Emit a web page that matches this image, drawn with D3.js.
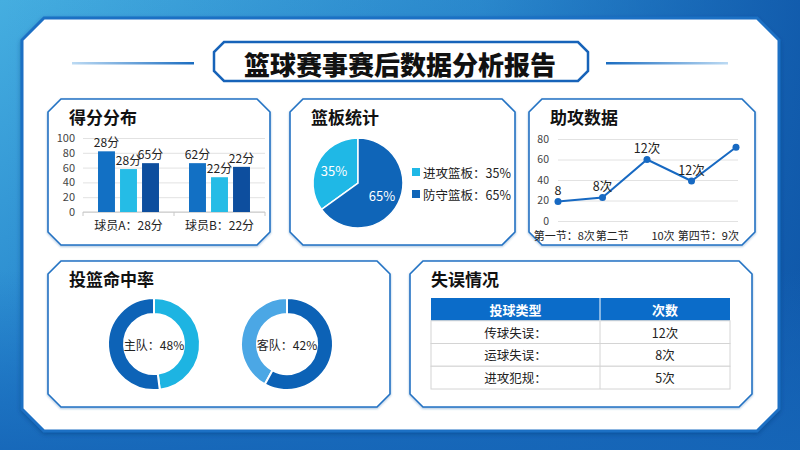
<!DOCTYPE html>
<html><head><meta charset="utf-8">
<script src="https://cdn.jsdelivr.net/npm/d3@7"></script>
<style>
html,body{margin:0;padding:0;background:#1a6cc0;}
svg{display:block;font-family:"Noto Sans CJK SC","Noto Sans",sans-serif;}
</style>
</head><body>
<svg id="c" width="800" height="450"></svg>
<script>
// ---------- DATA ----------
const titleText = "篮球赛事赛后数据分析报告";
const panelTitles = ["得分分布", "篮板统计", "助攻数据", "投篮命中率", "失误情况"];

// Panel 1: score distribution (three bars per player)
const scoreCategories = ["球员A：28分", "球员B：22分"];
const scoreSeries1 = [82, 66];
const scoreSeries2 = [58, 47];
const scoreSeries3 = [66, 61];
const scoreLabels1 = ["28分", "62分"];
const scoreLabels2 = ["28分", "22分"];
const scoreLabels3 = ["65分", "22分"];
const scoreTicks = [0, 20, 40, 60, 80, 100];

// Panel 2: rebounds
const reboundNames = ["进攻篮板", "防守篮板"];
const reboundValues = [35, 65];

// Panel 3: assists
const assistValues = [19, 23, 60, 39, 72];
const assistLabels = ["8", "8次", "12次", "12次", ""];
const assistTicks = [0, 20, 40, 60, 80];
const assistXLabels = ["第一节：8次", "第二节", "10次", "第四节：9次"];
const assistXLabelPos = [0.14, 1.22, 2.36, 3.38];

// Panel 4: shooting percentage
const shootTeams = ["主队", "客队"];
const shootPct = [48, 42];

// Panel 5: turnovers
const turnoverHeader = ["投球类型", "次数"];
const turnoverTypes = ["传球失误：", "运球失误：", "进攻犯规："];
const turnoverCounts = [12, 8, 5];

// ---------- DRAWING ----------
const svg = d3.select("#c");
const defs = svg.append("defs");

// background gradients
const bg = defs.append("linearGradient").attr("id", "bg").attr("x1", 0).attr("y1", 0).attr("x2", 1).attr("y2", 1);
bg.append("stop").attr("offset", 0).attr("stop-color", "#45aee0");
bg.append("stop").attr("offset", 0.45).attr("stop-color", "#2584cc");
bg.append("stop").attr("offset", 1).attr("stop-color", "#1260b0");
const bg2 = defs.append("linearGradient").attr("id", "bg2").attr("x1", 0).attr("y1", 0).attr("x2", 1).attr("y2", 0);
bg2.append("stop").attr("offset", 0).attr("stop-color", "#1560b2").attr("stop-opacity", 0);
bg2.append("stop").attr("offset", 0.6).attr("stop-color", "#1560b2").attr("stop-opacity", 0.2);
bg2.append("stop").attr("offset", 1).attr("stop-color", "#0f56a8").attr("stop-opacity", 0.85);
const bg3 = defs.append("linearGradient").attr("id", "bg3").attr("x1", 0).attr("y1", 0).attr("x2", 0).attr("y2", 1);
bg3.append("stop").attr("offset", 0.6).attr("stop-color", "#1a6cc0").attr("stop-opacity", 0);
bg3.append("stop").attr("offset", 1).attr("stop-color", "#1666b8").attr("stop-opacity", 0.9);

svg.append("rect").attr("width", 800).attr("height", 450).attr("fill", "url(#bg)");
svg.append("rect").attr("width", 800).attr("height", 450).attr("fill", "url(#bg2)");
svg.append("rect").attr("width", 800).attr("height", 450).attr("fill", "url(#bg3)");

// shadows
const sh = defs.append("filter").attr("id", "sh").attr("x", -0.1).attr("y", -0.1).attr("width", 1.2).attr("height", 1.2);
sh.append("feDropShadow").attr("dx", 0).attr("dy", 2).attr("stdDeviation", 2).attr("flood-color", "#0a3d7a").attr("flood-opacity", 0.45);
const sh2 = defs.append("filter").attr("id", "sh2").attr("x", -0.1).attr("y", -0.1).attr("width", 1.2).attr("height", 1.2);
sh2.append("feDropShadow").attr("dx", 0).attr("dy", 1).attr("stdDeviation", 0.8).attr("flood-color", "#1a5fa8").attr("flood-opacity", 0.4);

function octa(x0, y0, x1, y1, c) {
  return `M${x0 + c},${y0}H${x1 - c}L${x1},${y0 + c}V${y1 - c}L${x1 - c},${y1}H${x0 + c}L${x0},${y1 - c}V${y0 + c}Z`;
}

// outer white board
svg.append("path").attr("d", octa(22, 18, 779, 431, 22))
  .attr("fill", "#ffffff").attr("stroke", "#1d6fc4").attr("stroke-width", 3).attr("filter", "url(#sh)");

// title box & decorative lines
const lgL = defs.append("linearGradient").attr("id", "lgL");
lgL.append("stop").attr("offset", 0).attr("stop-color", "#bcdaf3");
lgL.append("stop").attr("offset", 1).attr("stop-color", "#1a6cc0");
const lgR = defs.append("linearGradient").attr("id", "lgR");
lgR.append("stop").attr("offset", 0).attr("stop-color", "#1a6cc0");
lgR.append("stop").attr("offset", 1).attr("stop-color", "#bcdaf3");
svg.append("rect").attr("x", 72).attr("y", 62).attr("width", 122).attr("height", 2.5).attr("fill", "url(#lgL)");
svg.append("rect").attr("x", 606).attr("y", 62).attr("width", 122).attr("height", 2.5).attr("fill", "url(#lgR)");

svg.append("path").attr("d", octa(214, 42, 588, 81, 10))
  .attr("fill", "#ffffff").attr("stroke", "#1763b9").attr("stroke-width", 2.5);
svg.append("text").attr("x", 400).attr("y", 63).attr("text-anchor", "middle").attr("dominant-baseline", "central")
  .attr("font-size", 26).attr("font-weight", 900).attr("fill", "#111").text(titleText);

// panels
const panels = [
  [48, 99, 270, 245],
  [290, 99, 515, 245],
  [529, 99, 755, 245],
  [48, 261, 390, 407],
  [410, 261, 752, 407]
];
panels.forEach((p, i) => {
  svg.append("path").attr("d", octa(p[0], p[1], p[2], p[3], 13))
    .attr("fill", "#fff").attr("stroke", "#2372c3").attr("stroke-width", 1.6).attr("filter", "url(#sh2)");
  svg.append("text").attr("x", p[0] + 21).attr("y", p[1] + 17.5).attr("dominant-baseline", "central")
    .attr("font-size", 17).attr("font-weight", 700).attr("fill", "#111").text(panelTitles[i]);
});

// ---- Panel 1: bars ----
{
  const g = svg.append("g");
  const x = d3.scaleBand().domain(scoreCategories).range([83, 265]);
  const xi = d3.scaleBand().domain([0, 1, 2]).range([x.bandwidth() * 0.165, x.bandwidth() * 0.835]).paddingInner(0.23);
  const y = d3.scaleLinear().domain([0, 100]).range([212, 138]);
  const ax = g.append("g").attr("transform", "translate(83,0)")
    .call(d3.axisLeft(y).tickValues(scoreTicks).tickSize(-(265 - 83)).tickPadding(8));
  ax.select(".domain").remove();
  ax.selectAll(".tick line").attr("stroke", "#e2e2e2");
  ax.selectAll(".tick text").attr("font-size", 11).attr("fill", "#444").attr("font-family", "Noto Sans CJK SC");
  // baseline axis with boundary ticks
  g.append("line").attr("x1", x.range()[0]).attr("x2", x.range()[1]).attr("y1", y(0)).attr("y2", y(0)).attr("stroke", "#c8c8c8");
  const bounds = scoreCategories.map(c => x(c)).concat([x.range()[1]]);
  g.selectAll(".bt").data(bounds).join("line").attr("x1", d => d).attr("x2", d => d)
    .attr("y1", y(0)).attr("y2", y(0) + 4).attr("stroke", "#c8c8c8");
  const series = [scoreSeries1, scoreSeries2, scoreSeries3];
  const labels = [scoreLabels1, scoreLabels2, scoreLabels3];
  const colors = ["#1270c4", "#25bce6", "#0d4e9e"];
  series.forEach((s, si) => {
    g.selectAll(".b" + si).data(s).join("rect")
      .attr("x", (d, i) => x(scoreCategories[i]) + xi(si)).attr("y", d => y(d))
      .attr("width", xi.bandwidth()).attr("height", d => y(0) - y(d)).attr("fill", colors[si]);
    g.selectAll(".l" + si).data(s).join("text")
      .attr("x", (d, i) => x(scoreCategories[i]) + xi(si) + xi.bandwidth() / 2).attr("y", d => y(d) - 4)
      .attr("text-anchor", "middle").attr("font-size", 12).attr("fill", "#222")
      .text((d, i) => labels[si][i]);
  });
  g.selectAll(".xl").data(scoreCategories).join("text")
    .attr("x", d => x(d) + x.bandwidth() / 2).attr("y", 224).attr("dominant-baseline", "central")
    .attr("text-anchor", "middle").attr("font-size", 12).attr("fill", "#222").text(d => d);
}

// ---- Panel 2: pie ----
{
  const g = svg.append("g").attr("transform", "translate(358,183)");
  const total = d3.sum(reboundValues);
  const start = -2 * Math.PI * reboundValues[0] / total;
  const pie = d3.pie().sort(null).startAngle(start).endAngle(start + 2 * Math.PI);
  const arc = d3.arc().innerRadius(0).outerRadius(45);
  const lab = d3.arc().innerRadius(27).outerRadius(27);
  const colors = ["#1fb8e6", "#0f65b8"];
  const arcs = pie(reboundValues);
  g.selectAll("path").data(arcs).join("path").attr("d", arc).attr("fill", (d, i) => colors[i])
    .attr("stroke", "#fff").attr("stroke-width", 1.5);
  g.selectAll("text").data(arcs).join("text").attr("transform", d => `translate(${lab.centroid(d)})`)
    .attr("text-anchor", "middle").attr("dominant-baseline", "central").attr("font-size", 13).attr("fill", "#fff")
    .text(d => d.data + "%");
  const ly = d3.scaleBand().domain(reboundNames).range([161, 205]);
  const lg = svg.append("g");
  lg.selectAll("rect").data(reboundNames).join("rect").attr("x", 412).attr("y", d => ly(d) + ly.bandwidth() / 2 - 4)
    .attr("width", 8).attr("height", 8).attr("fill", (d, i) => colors[i]);
  lg.selectAll("text").data(reboundNames).join("text").attr("x", 423).attr("y", d => ly(d) + ly.bandwidth() / 2)
    .attr("dominant-baseline", "central").attr("font-size", 12.5).attr("fill", "#222")
    .text((d, i) => d + "：" + reboundValues[i] + "%");
}

// ---- Panel 3: line ----
{
  const g = svg.append("g");
  const x = d3.scaleLinear().domain([0, assistValues.length - 1]).range([558, 736]);
  const y = d3.scaleLinear().domain([0, 80]).range([221, 139]);
  const ax = g.append("g").attr("transform", "translate(558,0)")
    .call(d3.axisLeft(y).tickValues(assistTicks).tickSize(-(738 - 558)).tickPadding(9));
  ax.select(".domain").remove();
  ax.selectAll(".tick line").attr("stroke", "#e2e2e2");
  ax.selectAll(".tick text").attr("font-size", 10.5).attr("fill", "#444").attr("font-family", "Noto Sans CJK SC");
  const line = d3.line().x((d, i) => x(i)).y(d => y(d));
  g.append("path").datum(assistValues).attr("d", line).attr("fill", "none").attr("stroke", "#1769c2").attr("stroke-width", 2);
  g.selectAll("circle").data(assistValues).join("circle").attr("cx", (d, i) => x(i)).attr("cy", d => y(d))
    .attr("r", 3.5).attr("fill", "#1769c2");
  g.selectAll(".pl").data(assistValues).join("text").attr("x", (d, i) => x(i)).attr("y", d => y(d) - 12)
    .attr("text-anchor", "middle").attr("dominant-baseline", "central").attr("font-size", 12.5).attr("fill", "#222")
    .text((d, i) => assistLabels[i]);
  g.selectAll(".xl").data(assistXLabels).join("text").attr("x", (d, i) => x(assistXLabelPos[i])).attr("y", 235)
    .attr("text-anchor", "middle").attr("dominant-baseline", "central").attr("font-size", 11).attr("fill", "#222")
    .text(d => d);
}

// ---- Panel 4: donuts ----
{
  const cx = d3.scalePoint().domain(shootTeams).range([154, 287]);
  const arc = d3.arc().innerRadius(30).outerRadius(46);
  const palettes = [["#1db4e2", "#0d63b7"], ["#4ba7e5", "#0c62b6"]];
  shootTeams.forEach((t, ti) => {
    const pct = shootPct[ti];
    const start = ti === 0 ? 0 : -2 * Math.PI * pct / 100;
    const pie = d3.pie().sort(null).startAngle(start).endAngle(start + 2 * Math.PI);
    const g = svg.append("g").attr("transform", `translate(${cx(t)},344)`);
    g.selectAll("path").data(pie([pct, 100 - pct])).join("path").attr("d", arc)
      .attr("fill", (d, i) => palettes[ti][i]).attr("stroke", "#fff").attr("stroke-width", 2);
    g.append("text").attr("text-anchor", "middle").attr("dominant-baseline", "central")
      .attr("font-size", 12).attr("fill", "#222").text(t + "：" + pct + "%");
  });
}

// ---- Panel 5: table ----
{
  const g = svg.append("g");
  const rows = d3.scaleBand().domain(d3.range(-1, turnoverTypes.length)).range([298, 389]);
  const colEdges = [431, 600, 730];
  const colCenter = i => (colEdges[i] + colEdges[i + 1]) / 2;
  g.append("rect").attr("x", colEdges[0]).attr("y", rows(-1)).attr("width", colEdges[2] - colEdges[0])
    .attr("height", rows.bandwidth()).attr("fill", "#0b6cc9");
  g.selectAll(".rb").data(turnoverTypes).join("rect").attr("x", colEdges[0]).attr("y", (d, i) => rows(i))
    .attr("width", colEdges[2] - colEdges[0]).attr("height", rows.bandwidth())
    .attr("fill", "#fff").attr("stroke", "#d4d4d4").attr("stroke-width", 1);
  g.append("line").attr("x1", colEdges[1]).attr("x2", colEdges[1]).attr("y1", rows(-1)).attr("y2", rows(0))
    .attr("stroke", "#ffffff").attr("stroke-width", 1);
  g.append("line").attr("x1", colEdges[1]).attr("x2", colEdges[1]).attr("y1", rows(0)).attr("y2", rows.range()[1])
    .attr("stroke", "#d4d4d4").attr("stroke-width", 1);
  g.selectAll(".hd").data(turnoverHeader).join("text").attr("x", (d, i) => colCenter(i))
    .attr("y", rows(-1) + rows.bandwidth() / 2).attr("text-anchor", "middle").attr("dominant-baseline", "central")
    .attr("font-size", 13).attr("font-weight", 700).attr("fill", "#fff").text(d => d);
  g.selectAll(".c1").data(turnoverTypes).join("text").attr("x", colCenter(0))
    .attr("y", (d, i) => rows(i) + rows.bandwidth() / 2).attr("text-anchor", "middle").attr("dominant-baseline", "central")
    .attr("font-size", 12.5).attr("fill", "#222").text(d => d);
  g.selectAll(".c2").data(turnoverCounts).join("text").attr("x", colCenter(1))
    .attr("y", (d, i) => rows(i) + rows.bandwidth() / 2).attr("text-anchor", "middle").attr("dominant-baseline", "central")
    .attr("font-size", 12.5).attr("fill", "#222").text(d => d + "次");
}
</script>
</body></html>
